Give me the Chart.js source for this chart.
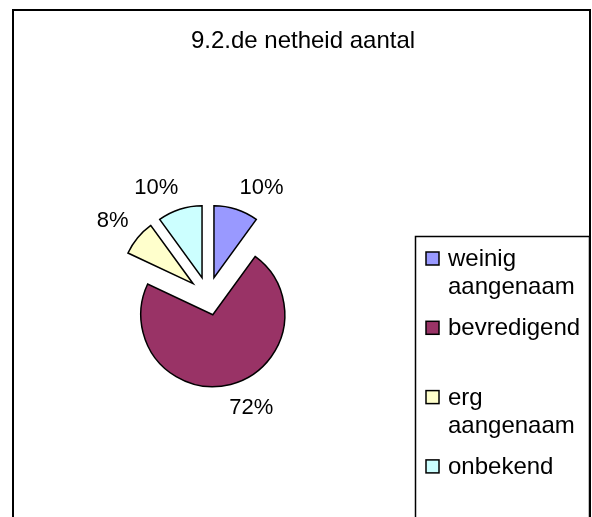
<!DOCTYPE html>
<html>
<head>
<meta charset="utf-8">
<script src="https://cdn.jsdelivr.net/npm/chart.js@4/dist/chart.umd.min.js"></script>
<style>
  html, body { margin: 0; padding: 0; background: #fff; }
  canvas { display: block; }
</style>
</head>
<body>
<canvas id="c" width="592" height="517"></canvas>
<script>
// ---- data ----
const chartTitle = '9.2.de netheid aantal';
const categories = ['weinig aangenaam', 'bevredigend', 'erg aangenaam', 'onbekend'];
const values = [10, 72, 8, 10];
const sliceColors = ['#9999FF', '#993366', '#FFFFCC', '#CCFFFF'];

const FONT = '"Liberation Sans", Arial, sans-serif';
const EXPLODE = 19.3;

const explodePlugin = {
  id: 'explode',
  afterDatasetUpdate(chart, args) {
    const meta = chart.getDatasetMeta(args.index);
    meta.data.forEach(el => {
      const mid = (el.startAngle + el.endAngle) / 2;
      el.x = el.x + Math.cos(mid) * EXPLODE;
      el.y = el.y + Math.sin(mid) * EXPLODE;
    });
  }
};

const framePlugin = {
  id: 'frame',
  beforeDraw(chart) {
    const ctx = chart.ctx;
    ctx.save();
    ctx.fillStyle = '#fff';
    ctx.fillRect(0, 0, chart.width, chart.height);
    ctx.strokeStyle = '#000';
    ctx.lineWidth = 2;
    ctx.strokeRect(13, 10, 577, 530);
    // title
    ctx.fillStyle = '#000';
    ctx.font = '24px ' + FONT;
    ctx.textAlign = 'center';
    ctx.textBaseline = 'alphabetic';
    ctx.fillText(chartTitle, 303, 48);
    ctx.restore();
  },
  afterDraw(chart) {
    const ctx = chart.ctx;
    ctx.save();
    // legend box
    ctx.strokeStyle = '#000';
    ctx.lineWidth = 1.5;
    ctx.strokeRect(415.5, 236.5, 174, 290);
    ctx.font = '24px ' + FONT;
    ctx.textAlign = 'left';
    ctx.textBaseline = 'alphabetic';
    const maxW = 138;
    const labels = chart.data.labels;
    const ds = chart.data.datasets[0];
    labels.forEach((lab, i) => {
      const base = 265 + i * 69.3;
      // square
      ctx.fillStyle = ds.backgroundColor[i];
      ctx.fillRect(426, base - 13, 13, 13);
      ctx.strokeStyle = '#000';
      ctx.lineWidth = 1.5;
      ctx.strokeRect(426, base - 13, 13, 13);
      // wrapped text
      const words = lab.split(' ');
      const lines = [];
      let cur = '';
      words.forEach(w => {
        const t = cur ? cur + ' ' + w : w;
        if (cur && ctx.measureText(t).width > maxW) { lines.push(cur); cur = w; }
        else cur = t;
      });
      if (cur) lines.push(cur);
      ctx.fillStyle = '#000';
      lines.forEach((ln, k) => ctx.fillText(ln, 448, base + 1 + k * 28));
    });
    ctx.restore();
  }
};

const pctLabelPlugin = {
  id: 'pctLabels',
  afterDatasetsDraw(chart) {
    const ctx = chart.ctx;
    const meta = chart.getDatasetMeta(0);
    const data = chart.data.datasets[0].data;
    const total = data.reduce((a, b) => a + b, 0);
    ctx.save();
    ctx.font = '22px ' + FONT;
    ctx.fillStyle = '#000';
    ctx.textAlign = 'center';
    ctx.textBaseline = 'middle';
    const clamp = v => Math.max(-1, Math.min(1, v));
    meta.data.forEach((el, i) => {
      const mid = (el.startAngle + el.endAngle) / 2;
      const c = Math.cos(mid), s = Math.sin(mid);
      const txt = Math.round(data[i] / total * 100) + '%';
      const w = ctx.measureText(txt).width;
      const ax = el.x + 85 * c, ay = el.y + 85 * s;
      const cx = ax + (w / 2) * clamp(3 * c);
      const cy = ay + 10 * clamp(3 * s);
      ctx.fillText(txt, cx + 1, cy + 1);
    });
    ctx.restore();
  }
};

new Chart(document.getElementById('c'), {
  type: 'pie',
  data: {
    labels: categories,
    datasets: [{
      data: values,
      backgroundColor: sliceColors,
      borderColor: '#000',
      borderWidth: 1.5,
      borderJoinStyle: 'miter',
      offset: 0
    }]
  },
  options: {
    responsive: false,
    animation: false,
    radius: 72,
    layout: { padding: { left: 100, right: 276, top: 180, bottom: 105 } },
    plugins: {
      legend: { display: false },
      title: { display: false },
      tooltip: { enabled: false }
    }
  },
  plugins: [explodePlugin, framePlugin, pctLabelPlugin]
});
</script>
</body>
</html>
